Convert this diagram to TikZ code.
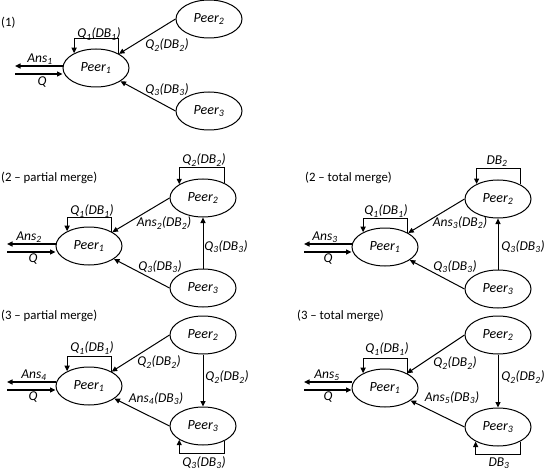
\documentclass[tikz,border=0pt]{standalone}
\usepackage{fontspec}
\setmainfont{Carlito}
\usetikzlibrary{arrows.meta}
\usetikzlibrary{calc}
\usetikzlibrary{shapes.geometric}

\tikzset{
  peer/.style={draw, ellipse, line width=1pt, minimum width=66pt, minimum height=38pt, inner sep=0pt, font=\fontsize{14}{16}\selectfont\itshape},
  etq/.style={inner sep=0pt, font=\fontsize{13.5}{16}\selectfont\itshape},
  tit/.style={inner sep=0pt, anchor=west, font=\fontsize{12.8}{15}\selectfont},
  flecha/.style={-{Triangle[length=5.5pt,width=5pt]}, line width=1pt},
  entrada/.style={-{Triangle[length=5.5pt,width=5pt]}, line width=1.4pt},
}

\begin{document}
\begin{tikzpicture}[x=1pt, y=-1pt]
    \useasboundingbox (0,0) rectangle (545,470);

    % (1)
    \node[tit] (t1) at (1,23) {(1)};
    \node[peer] (a1) at (96,68) {Peer\textsubscript{1}};
    \node[peer] (a2) at (209,19) {Peer\textsubscript{2}};
    \node[peer] (a3) at (209,111) {Peer\textsubscript{3}};
    \coordinate (ansA) at (15,66);
    \coordinate (qA) at (15,74);
    \draw[entrada] (ansA -| a1.west) -- (ansA);
    \draw[entrada] (qA) -- (qA -| a1.west);
    \node[etq] (lansA) at (40,59) {Ans\textsubscript{1}};
    \node[etq] (lqA) at (42,82) {Q};
    \draw[flecha] (a1.32) -- ++(0,-15) -| (a1.146);
    \node[etq] (lbA1) at (99,34) {Q\textsubscript{1}(DB\textsubscript{1})};
    \draw[flecha] (a2.west) -- (a1);
    \node[etq] (lbA2) at (167,45) {Q\textsubscript{2}(DB\textsubscript{2})};
    \draw[flecha] (a3.west) -- (a1);
    \node[etq] (lbA3) at (167,90) {Q\textsubscript{3}(DB\textsubscript{3})};

    % (2 - partial merge)
    \node[tit] (t2) at (1,178) {(2 – partial merge)};
    \node[peer] (b1) at (89,246) {Peer\textsubscript{1}};
    \node[peer] (b2) at (203,198) {Peer\textsubscript{2}};
    \node[peer] (b3) at (203,288) {Peer\textsubscript{3}};
    \coordinate (ansB) at (7,244);
    \coordinate (qB) at (7,252);
    \draw[entrada] (ansB -| b1.west) -- (ansB);
    \draw[entrada] (qB) -- (qB -| b1.west);
    \node[etq] (lansB) at (29,237) {Ans\textsubscript{2}};
    \node[etq] (lqB) at (33,259) {Q};
    \draw[flecha] (b1.32) -- ++(0,-14) -| (b1.146);
    \node[etq] (lbB1) at (92,211) {Q\textsubscript{1}(DB\textsubscript{1})};
    \draw[flecha] (b2.35) -- ++(0,-16) -| (b2.150);
    \node[etq] (lbB2) at (204,160) {Q\textsubscript{2}(DB\textsubscript{2})};
    \draw[flecha] (b2.west) -- (b1);
    \node[etq] (lbB3) at (164,223) {Ans\textsubscript{2}(DB\textsubscript{2})};
    \draw[flecha] (b3.west) -- (b1);
    \node[etq] (lbB4) at (160,267) {Q\textsubscript{3}(DB\textsubscript{3})};
    \draw[flecha] (b3) -- (b2);
    \node[etq] (lbB5) at (226,247) {Q\textsubscript{3}(DB\textsubscript{3})};

    % (2 - total merge)
    \node[tit] (t3) at (305,178) {(2 – total merge)};
    \node[peer] (c1) at (385,247) {Peer\textsubscript{1}};
    \node[peer] (c2) at (498,199) {Peer\textsubscript{2}};
    \node[peer] (c3) at (498,289) {Peer\textsubscript{3}};
    \coordinate (ansC) at (304,244);
    \coordinate (qC) at (304,252);
    \draw[entrada] (ansC -| c1.west) -- (ansC);
    \draw[entrada] (qC) -- (qC -| c1.west);
    \node[etq] (lansC) at (325,237) {Ans\textsubscript{3}};
    \node[etq] (lqC) at (328,259) {Q};
    \draw[flecha] (c1.32) -- ++(0,-14) -| (c1.146);
    \node[etq] (lbC1) at (386,211) {Q\textsubscript{1}(DB\textsubscript{1})};
    \draw[flecha] (c2.33) -- ++(0,-16) -| (c2.145);
    \node[etq] (lbC2) at (497,161) {DB\textsubscript{2}};
    \draw[flecha] (c2.west) -- (c1);
    \node[etq] (lbC3) at (460,223) {Ans\textsubscript{3}(DB\textsubscript{2})};
    \draw[flecha] (c3.west) -- (c1);
    \node[etq] (lbC4) at (455,267) {Q\textsubscript{3}(DB\textsubscript{3})};
    \draw[flecha] (c3) -- (c2);
    \node[etq] (lbC5) at (523,247) {Q\textsubscript{3}(DB\textsubscript{3})};

    % (3 - partial merge)
    \node[tit] (t4) at (1,316) {(3 – partial merge)};
    \node[peer] (d1) at (89,386) {Peer\textsubscript{1}};
    \node[peer] (d2) at (203,335) {Peer\textsubscript{2}};
    \node[peer] (d3) at (203,426) {Peer\textsubscript{3}};
    \coordinate (ansD) at (7,382);
    \coordinate (qD) at (7,390);
    \draw[entrada] (ansD -| d1.west) -- (ansD);
    \draw[entrada] (qD) -- (qD -| d1.west);
    \node[etq] (lansD) at (34,375) {Ans\textsubscript{4}};
    \node[etq] (lqD) at (33,397) {Q};
    \draw[flecha] (d1.32) -- ++(0,-15) -| (d1.146);
    \node[etq] (lbD1) at (92,348) {Q\textsubscript{1}(DB\textsubscript{1})};
    \draw[flecha] (d2.west) -- (d1);
    \node[etq] (lbD2) at (159,362) {Q\textsubscript{2}(DB\textsubscript{2})};
    \draw[flecha] (d3.west) -- (d1);
    \node[etq] (lbD3) at (156,399) {Ans\textsubscript{4}(DB\textsubscript{3})};
    \draw[flecha] (d2) -- (d3);
    \node[etq] (lbD4) at (227,377) {Q\textsubscript{2}(DB\textsubscript{2})};
    \draw[flecha] (d3.-34) -- ++(0,13) -| (d3.210);
    \node[etq] (lbD5) at (204,463) {Q\textsubscript{3}(DB\textsubscript{3})};

    % (3 - total merge)
    \node[tit] (t5) at (297,316) {(3 – total merge)};
    \node[peer] (e1) at (385,388) {Peer\textsubscript{1}};
    \node[peer] (e2) at (498,335) {Peer\textsubscript{2}};
    \node[peer] (e3) at (498,427) {Peer\textsubscript{3}};
    \coordinate (ansE) at (304,382);
    \coordinate (qE) at (304,390);
    \draw[entrada] (ansE -| e1.west) -- (ansE);
    \draw[entrada] (qE) -- (qE -| e1.west);
    \node[etq] (lansE) at (327,375) {Ans\textsubscript{5}};
    \node[etq] (lqE) at (328,397) {Q};
    \draw[flecha] (e1.32) -- ++(0,-15) -| (e1.146);
    \node[etq] (lbE1) at (387,349) {Q\textsubscript{1}(DB\textsubscript{1})};
    \draw[flecha] (e2.west) -- (e1);
    \node[etq] (lbE2) at (455,363) {Q\textsubscript{2}(DB\textsubscript{2})};
    \draw[flecha] (e3.west) -- (e1);
    \node[etq] (lbE3) at (452,398) {Ans\textsubscript{5}(DB\textsubscript{3})};
    \draw[flecha] (e2) -- (e3);
    \node[etq] (lbE4) at (523,377) {Q\textsubscript{2}(DB\textsubscript{2})};
    \draw[flecha] (e3.-33) -- ++(0,13) -| (e3.213);
    \node[etq] (lbE5) at (499,463) {DB\textsubscript{3}};

\end{tikzpicture}
\end{document}
